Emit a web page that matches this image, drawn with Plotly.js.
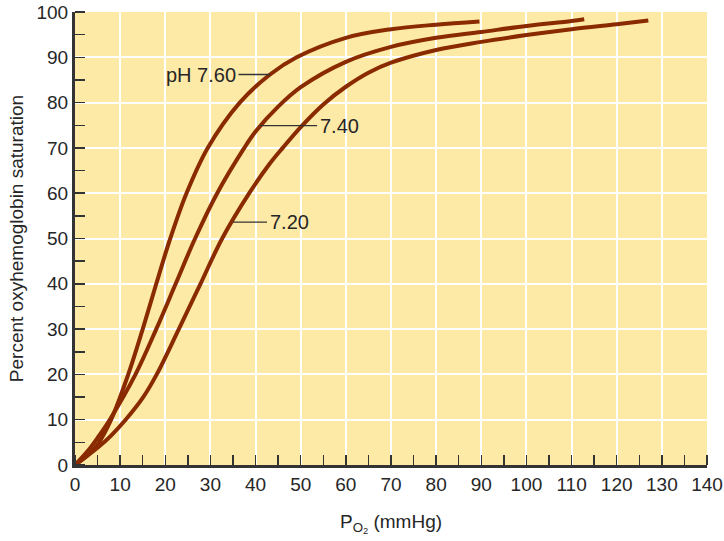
<!DOCTYPE html>
<html>
<head>
<meta charset="utf-8">
<script src="https://cdn.plot.ly/plotly-3.0.1.min.js"></script>
<style>html,body{margin:0;padding:0;background:#fff;}#chart{width:724px;height:541px;}</style>
</head>
<body>
<div id="chart"></div>
<script>
// Oxyhemoglobin dissociation curves
var po2_760 = [0, 3, 5, 8, 11.8, 15, 18, 21.1, 24.7, 29.4, 36.5, 43.2, 49.1, 60, 70, 80, 89.6];
var sat_760 = [0, 2.3, 4.5, 10, 20, 30, 40, 50, 60, 70, 80, 86.2, 90, 94.3, 96.2, 97.2, 97.9];

var po2_740 = [0, 3, 5, 7.7, 13.4, 18, 22.3, 26.6, 31.5, 37.5, 40, 45, 50, 60, 70, 80, 90, 100, 110, 112.8];
var sat_740 = [0, 3.3, 6, 10, 20, 30, 40, 50, 60, 70, 73.6, 79.1, 83.4, 89, 92.3, 94.3, 95.6, 96.9, 98.0, 98.4];

var po2_720 = [0, 5, 8, 11.4, 15, 18.1, 23, 27.8, 32.6, 38.6, 43.2, 46, 50, 55, 60, 65, 70, 80, 90, 100, 110, 120, 127];
var sat_720 = [0, 3.8, 6.5, 10.2, 14.8, 20, 30, 40, 50, 60, 66.6, 70, 74.6, 79.6, 83.5, 86.6, 88.8, 91.6, 93.4, 94.9, 96.2, 97.3, 98.1];

var labels = ["pH 7.60", "7.40", "7.20"];
var labelX = [43.2, 41, 35];
var labelY = [86.2, 74.9, 53.6];

var xTickVals = [0, 10, 20, 30, 40, 50, 60, 70, 80, 90, 100, 110, 120, 130, 140];
var yTickVals = [0, 10, 20, 30, 40, 50, 60, 70, 80, 90, 100];

var curveColor = '#8a2a00';
var textColor = '#262626';
var font = 'Liberation Sans, Arial, Helvetica, sans-serif';

function curve(x, y) {
  return {x: x, y: y, type: 'scatter', mode: 'lines',
    line: {color: curveColor, width: 4, shape: 'spline', smoothing: 1},
    hoverinfo: 'skip', showlegend: false, cliponaxis: false};
}

var data = [curve(po2_760, sat_760), curve(po2_740, sat_740), curve(po2_720, sat_720)];

var axOffsets = [-69, 79, 56];
var annotations = labels.map(function (t, i) {
  return {x: labelX[i], y: labelY[i], xref: 'x', yref: 'y', text: t,
    showarrow: true, arrowhead: 0, arrowwidth: 1.3, arrowcolor: '#333',
    ax: axOffsets[i], ay: 0, standoff: 0, borderpad: 2,
    font: {family: font, size: 20, color: textColor}};
});

var layout = {
  width: 724, height: 541,
  margin: {l: 75, r: 17, t: 12, b: 76},
  paper_bgcolor: '#ffffff',
  plot_bgcolor: '#feeaa7',
  font: {family: font, color: textColor, size: 19},
  xaxis: {
    range: [0, 140], tickvals: xTickVals, ticks: '',
    showgrid: true, gridcolor: '#ffffff', gridwidth: 2, zeroline: false,
    showline: true, linecolor: '#333333', linewidth: 3,
    tickfont: {size: 19, color: textColor},
    minor: {dtick: 5, tick0: 0, ticks: 'inside', ticklen: 10, tickwidth: 1.5, tickcolor: '#333333', showgrid: false},
    title: {text: 'P<sub>O<sub>2</sub></sub> (mmHg)', font: {size: 19, color: textColor}, standoff: 21},
    fixedrange: true
  },
  yaxis: {
    range: [0, 100], tickvals: yTickVals, ticks: '',
    showgrid: true, gridcolor: '#ffffff', gridwidth: 2, zeroline: false,
    showline: true, linecolor: '#333333', linewidth: 3,
    tickfont: {size: 19, color: textColor},
    minor: {dtick: 5, tick0: 0, ticks: 'inside', ticklen: 10, tickwidth: 1.5, tickcolor: '#333333', showgrid: false},
    title: {text: 'Percent oxyhemoglobin saturation', font: {size: 19, color: textColor}, standoff: 8},
    fixedrange: true
  },
  annotations: annotations
};

Plotly.newPlot('chart', data, layout, {displayModeBar: false, staticPlot: true});
</script>
</body>
</html>
